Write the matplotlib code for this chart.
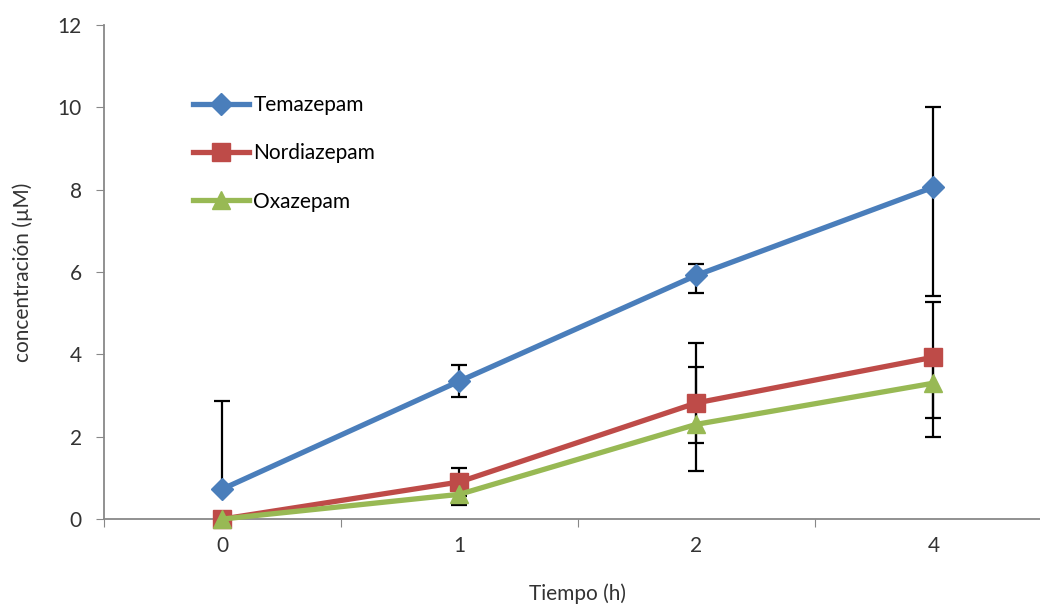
import matplotlib.pyplot as plt
import numpy as np

plt.rcParams['font.family'] = ['Lato', 'DejaVu Sans']

# Data
times = ['0', '1', '2', '4']
series = ['Temazepam', 'Nordiazepam', 'Oxazepam']

temazepam = [0.73, 3.35, 5.92, 8.06]
temazepam_lo = [0.0, 0.39, 0.43, 2.64]
temazepam_hi = [2.14, 0.39, 0.27, 1.94]

nordiazepam = [0.0, 0.90, 2.82, 3.93]
nordiazepam_lo = [0.0, 0.33, 1.65, 1.48]
nordiazepam_hi = [0.0, 0.34, 1.45, 1.34]

oxazepam = [0.0, 0.60, 2.30, 3.30]
oxazepam_lo = [0.0, 0.25, 0.45, 1.31]
oxazepam_hi = [0.0, 0.25, 1.39, 0.80]

colors = ['#4A7EBB', '#BE4B48', '#98B954']
markers = ['D', 's', '^']
msizes = [11, 13, 13]

fig = plt.figure(figsize=(10.4, 6.04), dpi=100)
ax = fig.add_axes([0.1, 0.1407, 0.9115, 0.818])

x = np.arange(len(times))
values = [temazepam, nordiazepam, oxazepam]
lows = [temazepam_lo, nordiazepam_lo, oxazepam_lo]
highs = [temazepam_hi, nordiazepam_hi, oxazepam_hi]

# error bars first so the markers sit on top
for vals, lo, hi in zip(values, lows, highs):
    ax.errorbar(x, vals, yerr=[lo, hi], fmt='none', ecolor='black',
                elinewidth=1.6, capsize=6, capthick=1.6, zorder=2)

for name, vals, c, m, ms in zip(series, values, colors, markers, msizes):
    ax.plot(x, vals, color=c, lw=3.8, marker=m, markersize=ms,
            label=name, zorder=3, clip_on=False)

ax.set_xlim(-0.5, 3.5)
ax.set_ylim(0, 12)
ax.set_yticks(np.arange(0, 13, 2))

# category ticks between groups, labels at centers
ax.set_xticks(np.arange(-0.5, 4, 1))
ax.set_xticklabels([])
ax.set_xticks(x, minor=True)
ax.set_xticklabels(times, minor=True)
ax.tick_params(axis='x', which='minor', length=0, pad=12, labelsize=15, colors='#333333')
ax.tick_params(axis='x', which='major', length=6, color='#888888', direction='out')
ax.tick_params(axis='y', length=6, color='#888888', labelsize=15, pad=10,
               labelcolor='#333333')

for side in ['top', 'right']:
    ax.spines[side].set_visible(False)
for side in ['left', 'bottom']:
    ax.spines[side].set_color('#888888')
    ax.spines[side].set_linewidth(1.3)

ax.set_xlabel('Tiempo (h)', fontsize=15, color='#333333', labelpad=20)
ax.set_ylabel('concentración (µM)', fontsize=15, color='#333333', labelpad=18)

ax.legend(loc='upper left', bbox_to_anchor=(0.085, 0.875), frameon=False,
          fontsize=15, handlelength=2.7, labelspacing=1.36, handletextpad=0.2,
          borderaxespad=0)

fig.savefig('out.png', dpi=100)
